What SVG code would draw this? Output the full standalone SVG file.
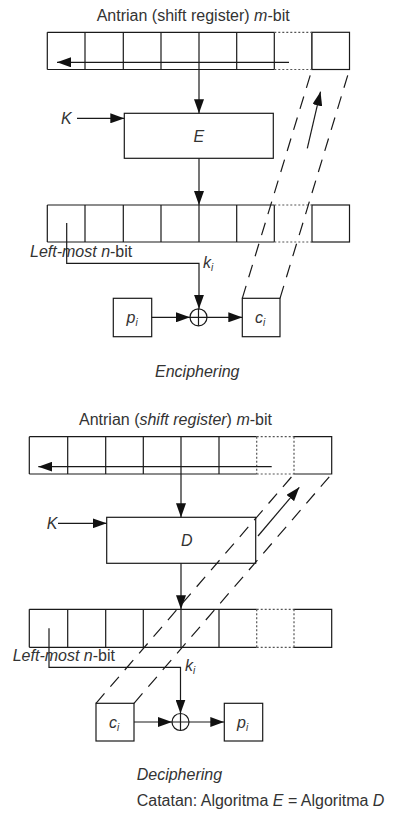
<svg xmlns="http://www.w3.org/2000/svg" width="394" height="817" viewBox="0 0 394 817">
<style>
.ln{stroke:#1a1a1a;stroke-width:1.2;fill:none}
.box{stroke:#1a1a1a;stroke-width:1.2;fill:#fff}
.dot{stroke:#555;stroke-width:1.2;stroke-dasharray:2 2;fill:none}
.dash{stroke:#1a1a1a;stroke-width:1.2;stroke-dasharray:13 9;fill:none}
.t{font-family:"Liberation Sans",Arial,sans-serif;font-size:16px;fill:#333}
.i{font-style:italic}
.sub{font-size:10px}
</style>
<defs>
<marker id="ah" markerUnits="userSpaceOnUse" markerWidth="14" markerHeight="10" refX="14" refY="5" orient="auto">
<path d="M0,0 L14,5 L0,10 z" fill="#111"/>
</marker>
</defs>

<!-- ENCIPHERING -->
<text class="t" x="96.7" y="20.5">Antrian (shift register) <tspan class="i">m</tspan>-bit</text>

<g id="reg1">
<path class="ln" d="M312,69.5 V32.3 M47.3,32.3 H274.3 M47.3,69.5 H274.3 M47.3,32.3 V69.5 M85,32.3 V69.5 M123.3,32.3 V69.5 M161,32.3 V69.5 M199,32.3 V69.5 M236.7,32.3 V69.5 M274.3,32.3 V69.5"/>
<rect class="box" x="312" y="32.3" width="37.5" height="37.2" fill="none"/>
<path class="dot" d="M274.3,32.3 H312 M274.3,69.5 H312"/>
</g>

<g id="encE">
<rect class="box" x="124.3" y="113.3" width="149" height="45"/>
<text class="t i" x="198.8" y="141.5" text-anchor="middle">E</text>
</g>
<text id="K1" class="t i" x="61" y="124">K</text>

<g id="reg2">
<path class="ln" d="M47.3,205 H274.3 M47.3,242 H274.3 M47.3,205 V242 M85,205 V242 M123.3,205 V242 M161,205 V242 M199,205 V242 M236.7,205 V242 M274.3,205 V242"/>
<rect class="box" x="312" y="205" width="37.5" height="37" fill="none"/>
<path class="dot" d="M274.3,205 H312 M274.3,242 H312"/>
</g>
<text id="lm1" class="t" x="30" y="256.7"><tspan class="i">Left-most n</tspan>-bit</text>

<g id="p1">
<rect class="box" x="113.3" y="298.3" width="38.4" height="38.4"/>
<text class="t i" x="126.5" y="322.5">p<tspan class="sub" dy="3">i</tspan></text>
</g>
<g id="x1">
<circle class="ln" cx="198.5" cy="317.3" r="8.5"/>
<path class="ln" d="M190,317.3 H207 M198.5,308.8 V325.8"/>
</g>
<g id="c1">
<rect class="box" x="242.3" y="298.3" width="37.7" height="38.4"/>
<text class="t i" x="255" y="322.5">c<tspan class="sub" dy="3">i</tspan></text>
</g>
<text id="k1" class="t i" x="203" y="268">k<tspan class="sub" dy="3">i</tspan></text>

<text id="enc" class="t i" x="155" y="376.7">Enciphering</text>

<!-- DECIPHERING -->
<text class="t" x="79" y="425">Antrian (<tspan class="i">shift register</tspan>) <tspan class="i">m</tspan>-bit</text>

<g id="reg3">
<path class="ln" d="M29.3,436.7 H256.7 M29.3,474 H256.7 M29.3,436.7 V474 M67.7,436.7 V474 M105.7,436.7 V474 M143.3,436.7 V474 M181,436.7 V474 M219,436.7 V474 M294,436.7 H331.7 V474 H294"/>
<path class="dot" d="M256.7,436.7 H294 M256.7,474 H294 M256.7,436.7 V474 M294,436.7 V474"/>
</g>

<g id="decD">
<rect class="box" x="106.7" y="517.3" width="149" height="46"/>
<text class="t i" x="181" y="546">D</text>
</g>
<text id="K2" class="t i" x="46.7" y="529">K</text>

<g id="reg4">
<path class="ln" d="M29.3,609.3 H256.7 M29.3,647.3 H256.7 M29.3,609.3 V647.3 M67.7,609.3 V647.3 M105.7,609.3 V647.3 M143.3,609.3 V647.3 M181,609.3 V647.3 M219,609.3 V647.3 M294,609.3 H331.7 V647.3 H294"/>
<path class="dot" d="M256.7,609.3 H294 M256.7,647.3 H294 M256.7,609.3 V647.3 M294,609.3 V647.3"/>
</g>
<text id="lm2" class="t" x="12.7" y="660.7"><tspan class="i">Left-most n</tspan>-bit</text>

<g id="c2">
<rect class="box" x="96" y="703.3" width="38" height="37.7"/>
<text class="t i" x="109" y="727.5">c<tspan class="sub" dy="3">i</tspan></text>
</g>
<g id="x2">
<circle class="ln" cx="180.5" cy="722" r="8.5"/>
<path class="ln" d="M172,722 H189 M180.5,713.5 V730.5"/>
</g>
<g id="p2">
<rect class="box" x="224.3" y="703.3" width="38.4" height="37.7"/>
<text class="t i" x="237" y="727.5">p<tspan class="sub" dy="3">i</tspan></text>
</g>
<text id="k2" class="t i" x="185" y="671">k<tspan class="sub" dy="3">i</tspan></text>

<text id="dec" class="t i" x="136.7" y="780">Deciphering</text>
<text id="note" class="t" x="136.7" y="806">Catatan: Algoritma <tspan class="i">E</tspan> = Algoritma <tspan class="i">D</tspan></text>

<g id="connectors">
<!-- top -->
<path class="ln" d="M289,62.3 H57" marker-end="url(#ah)"/>
<path class="ln" d="M199,69.5 V113.3" marker-end="url(#ah)"/>
<path class="ln" d="M77,118.3 H124.3" marker-end="url(#ah)"/>
<path class="ln" d="M199,158.3 V205" marker-end="url(#ah)"/>
<path class="ln" d="M66.7,223 V263.3 H199 V308.8" marker-end="url(#ah)"/>
<path class="ln" d="M151.7,317.3 H190" marker-end="url(#ah)"/>
<path class="ln" d="M207,317.3 H242.3" marker-end="url(#ah)"/>
<path class="dash" d="M242.3,298.3 L312,69.5"/>
<path class="dash" d="M280,298.3 L349.5,69.5"/>
<path class="ln" d="M307.3,148.3 L320.5,91.7" marker-end="url(#ah)"/>
<!-- bottom -->
<path class="ln" d="M271.7,466.7 H38.3" marker-end="url(#ah)"/>
<path class="ln" d="M181,474 V517.3" marker-end="url(#ah)"/>
<path class="ln" d="M58,523.3 H106.7" marker-end="url(#ah)"/>
<path class="ln" d="M181,563.3 V609.3" marker-end="url(#ah)"/>
<path class="ln" d="M49,628.3 V667.3 H180.5 V713.5" marker-end="url(#ah)"/>
<path class="ln" d="M134,722 H172" marker-end="url(#ah)"/>
<path class="ln" d="M189,722 H224.3" marker-end="url(#ah)"/>
<path class="dash" d="M96,703.3 L294,474"/>
<path class="dash" d="M134,703.3 L331.7,474"/>
<path class="ln" d="M258,536 L299.3,487.3" marker-end="url(#ah)"/>
</g>
</svg>
